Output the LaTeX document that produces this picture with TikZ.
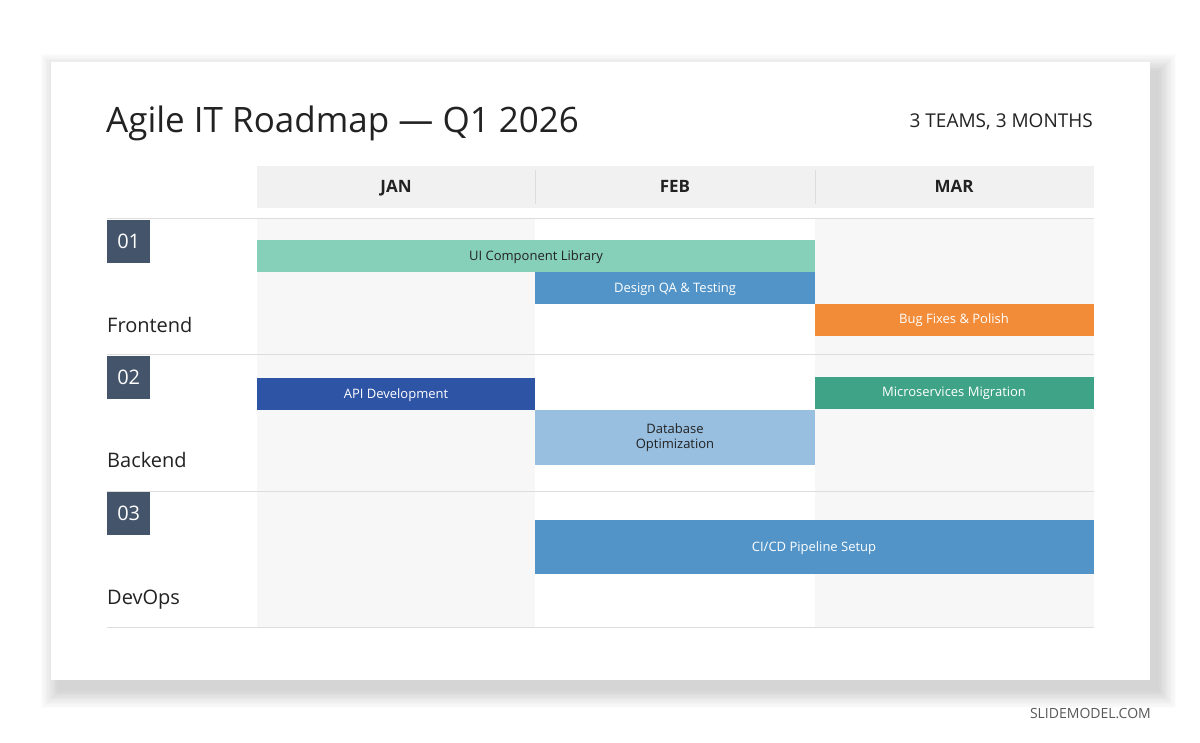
\documentclass[tikz,border=0pt]{standalone}
\usepackage{fontspec}
\setmainfont{Open Sans}
\definecolor{navy}{HTML}{44546A}
\definecolor{mint}{HTML}{86CFB8}
\definecolor{midblue}{HTML}{5294C8}
\definecolor{orng}{HTML}{F28C38}
\definecolor{dblue}{HTML}{2E54A6}
\definecolor{tealc}{HTML}{3FA387}
\definecolor{lblue}{HTML}{98BFE0}
\definecolor{colshade}{HTML}{F7F7F7}
\definecolor{hdr}{HTML}{F1F1F1}
\definecolor{rulec}{HTML}{DDDDDD}
\definecolor{txt}{HTML}{222222}
\tikzset{
 bar/.style={inner sep=0pt, align=center, font=\fontsize{13}{15}\selectfont},
 num/.style={fill=navy, text=white, minimum width=43pt, minimum height=43pt, inner sep=0pt, font=\fontsize{20}{22}\selectfont, anchor=north west},
 team/.style={anchor=base west, inner sep=0pt, text=txt, font=\fontsize{20}{22}\selectfont},
 month/.style={anchor=base, inner sep=0pt, font=\bfseries\fontsize{17}{19}\selectfont, text=txt},
}
\begin{document}
\begin{tikzpicture}[x=1pt,y=-1pt]
\useasboundingbox (0,0) rectangle (1200,743);
\fill[white] (0,0) rectangle (1200,743);
% soft shadow
\foreach \i in {1,...,14} {
  \fill[black, opacity=0.012] (51+8-\i*1.3,62+10-\i*1.3) rectangle (1150+8+\i*1.3,680+10+\i*1.3);
}
\fill[white] (51,62) rectangle (1150,680);
% title
\node[anchor=base west, inner sep=0pt, text=txt, font=\fontsize{35}{38}\selectfont] (title) at (106,133) {Agile IT Roadmap — Q1 2026};
\node[anchor=base east, inner sep=0pt, text=txt, font=\fontsize{19}{22}\selectfont] (sub) at (1093,128) {3 TEAMS, 3 MONTHS};
% column shading
\fill[colshade] (257,219) rectangle (535,627);
\fill[colshade] (815,219) rectangle (1094,627);
% header
\fill[hdr] (257,166) rectangle (1094,208);
\draw[rulec, line width=1pt] (535,170) -- (535,204) (815,170) -- (815,204);
\node[month] (jan) at (396,193) {JAN};
\node[month] (feb) at (675,193) {FEB};
\node[month] (mar) at (954,193) {MAR};
% row lines
\foreach \y in {219,355,491,627} \draw[rulec, line width=1pt] (107,\y) -- (1094,\y);
% numbers and teams
\node[num] (n1) at (107,220) {01};
\node[num] (n2) at (107,356) {02};
\node[num] (n3) at (107,492) {03};
\node[team] (t1) at (107,333) {Frontend};
\node[team] (t2) at (107,467) {Backend};
\node[team] (t3) at (107,604) {DevOps};
% bars
\fill[mint] (257,240) rectangle (815,272);
\node[bar, text=txt] (b1) at (536,257) {UI Component Library};
\fill[midblue] (535,272) rectangle (815,304);
\node[bar, text=white] (b2) at (675,289) {Design QA \& Testing};
\fill[orng] (815,304) rectangle (1094,336);
\node[bar, text=white] (b3) at (954,320) {Bug Fixes \& Polish};
\fill[dblue] (257,378) rectangle (535,410);
\node[bar, text=white] (b4) at (396,395) {API Development};
\fill[tealc] (815,377) rectangle (1094,409);
\node[bar, text=white] (b5) at (954,393) {Microservices Migration};
\fill[lblue] (535,410) rectangle (815,465);
\node[bar, text=txt] (b6) at (675,438) {Database\\Optimization};
\fill[midblue] (535,520) rectangle (1094,574);
\node[bar, text=white] (b7) at (814,548) {CI/CD Pipeline Setup};
% footer
\node[anchor=base east, inner sep=0pt, text=black!65, font=\fontsize{14}{16}\selectfont] (sm) at (1151,718) {SLIDEMODEL.COM};
\end{tikzpicture}
\end{document}
